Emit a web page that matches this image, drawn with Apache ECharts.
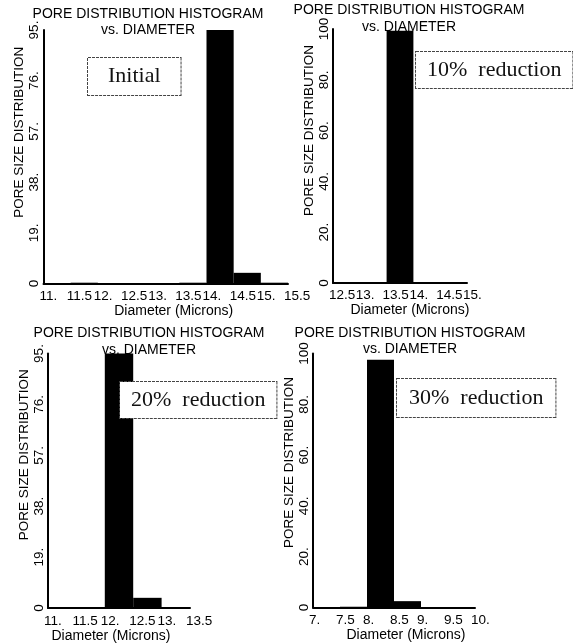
<!DOCTYPE html>
<html>
<head>
<meta charset="utf-8">
<script src="https://cdn.jsdelivr.net/npm/echarts@6/dist/echarts.min.js"></script>
<style>
html,body{margin:0;padding:0;background:#fff;}
#chart{width:573px;height:643px;}
</style>
</head>
<body>
<div id="chart"></div>
<script>
// ---- Data (bin edges in microns, bar heights in %) ----
// Panel 1: Initial
const initialEdges  = [11, 11.5, 12, 12.5, 13, 13.5, 14, 14.5, 15, 15.5];
const initialValues = [0, 0.3, 0, 0, 0, 0.3, 95, 4, 0.3];
const initialYTicks = [0, 95, 19];          // min, max, interval

// Panel 2: 10% reduction
const red10Edges  = [12.5, 13, 13.5, 14, 14.5, 15];
const red10Values = [0, 0, 99.3, 0.3, 0];
const red10YTicks = [0, 100, 20];

// Panel 3: 20% reduction
const red20Edges  = [11, 11.5, 12, 12.5, 13, 13.5];
const red20Values = [0, 0.2, 95, 3.8, 0];
const red20YTicks = [0, 95, 19];

// Panel 4: 30% reduction
const red30Edges  = [7, 7.5, 8, 8.5, 9, 9.5, 10];
const red30Values = [0, 0.3, 97.5, 2.5, 0, 0.2];
const red30YTicks = [0, 100, 20];

const panelLabels = ['Initial', '10%  reduction', '20%  reduction', '30%  reduction'];
const chartTitle1 = 'PORE DISTRIBUTION HISTOGRAM';
const chartTitle2 = 'vs. DIAMETER';
const xName = 'Diameter (Microns)';
const yName = 'PORE SIZE DISTRIBUTION';

// ---- Layout ----
const panels = [
  {edges: initialEdges, values: initialValues, y: initialYTicks,
   grid: {left: 43.5, top: 30, width: 244.5, height: 253.5},
   titleX: 148, titleY: [14, 30], box: [88, 58, 20, 7.5],
   xLabelMargin: 6, xNameGap: 16, xNamePad: [0, 0, 0, 16], yNamePad: 49},
  {edges: red10Edges, values: red10Values, y: red10YTicks,
   grid: {left: 333, top: 29, width: 134, height: 254},
   titleX: 409, titleY: [10, 27], box: [416, 52, 11, 7],
   xLabelMargin: 5, xNameGap: 15, xNamePad: [0, 0, 0, 20], yNamePad: 51},
  {edges: red20Edges, values: red20Values, y: red20YTicks,
   grid: {left: 48, top: 353.5, width: 142, height: 254.5},
   titleX: 149, titleY: [333, 350], box: [120, 382, 11, 7],
   xLabelMargin: 6, xNameGap: 17, xNamePad: [0, 16, 0, 0], yNamePad: 52},
  {edges: red30Edges, values: red30Values, y: red30YTicks,
   grid: {left: 313, top: 353.5, width: 162, height: 254},
   titleX: 410, titleY: [333, 349], box: [397, 379, 12, 8],
   xLabelMargin: 6, xNameGap: 17, xNamePad: [0, 0, 0, 24], yNamePad: 36}
];

const SANS = '"Liberation Sans", Arial, sans-serif';
const SERIF = '"Liberation Serif", "Times New Roman", serif';

function renderBin(params, api) {
  const x0 = api.value(0), x1 = api.value(1), v = api.value(2);
  const pTop = api.coord([x0, v]);
  const pBot = api.coord([x1, 0]);
  return {
    type: 'rect',
    shape: {x: pTop[0], y: pTop[1], width: pBot[0] - pTop[0], height: pBot[1] - pTop[1]},
    style: {fill: '#000'}
  };
}

const grids = [], xAxes = [], yAxes = [], series = [], graphics = [];

panels.forEach((p, i) => {
  grids.push(Object.assign({outerBoundsMode: 'none', containLabel: false}, p.grid));
  xAxes.push({
    gridIndex: i, type: 'value',
    min: p.edges[0], max: p.edges[p.edges.length - 1], interval: 0.5,
    axisLine: {show: true, onZero: false, lineStyle: {color: '#000', width: 2}},
    axisTick: {show: false}, splitLine: {show: false},
    axisLabel: {
      color: '#000', fontFamily: SANS, fontSize: 13.5, margin: p.xLabelMargin,
      align: 'left', padding: [0, 0, 0, -4], hideOverlap: false,
      showMinLabel: true, showMaxLabel: true,
      formatter: v => Number.isInteger(v) ? v + '.' : String(v)
    },
    name: xName, nameLocation: 'middle', nameGap: p.xNameGap,
    nameTextStyle: {color: '#000', fontFamily: SANS, fontSize: 14, verticalAlign: 'top', padding: p.xNamePad}
  });
  yAxes.push({
    gridIndex: i, type: 'value',
    min: p.y[0], max: p.y[1], interval: p.y[2],
    axisLine: {show: true, lineStyle: {color: '#000', width: 2}},
    axisTick: {show: false}, splitLine: {show: false},
    axisLabel: {
      color: '#000', fontFamily: SANS, fontSize: 13.5, margin: 2, rotate: 90,
      hideOverlap: false, showMinLabel: true, showMaxLabel: true,
      formatter: v => (v === 0 || v === 100) ? String(v) : v + '.'
    },
    name: yName, nameLocation: 'middle', nameRotate: 90, nameGap: 14,
    nameTextStyle: {color: '#000', fontFamily: SANS, fontSize: 13.5, padding: [0, 0, 0, p.yNamePad]}
  });
  const data = p.values.map((v, k) => [p.edges[k], p.edges[k + 1], v]);
  series.push({
    type: 'custom', xAxisIndex: i, yAxisIndex: i,
    renderItem: renderBin, encode: {x: [0, 1], y: 2},
    data: data, clip: false, silent: true
  });
  graphics.push({
    type: 'text', x: p.titleX, y: p.titleY[0], z: 50,
    style: {text: chartTitle1, align: 'center', verticalAlign: 'middle', font: '14px ' + SANS, fill: '#000'}
  });
  graphics.push({
    type: 'text', x: p.titleX, y: p.titleY[1], z: 50,
    style: {text: chartTitle2, align: 'center', verticalAlign: 'middle', font: '14px ' + SANS, fill: '#000'}
  });
  graphics.push({
    type: 'text', x: p.box[0], y: p.box[1], z: 100,
    style: {
      text: panelLabels[i], align: 'left', verticalAlign: 'top',
      font: '22px ' + SERIF, fill: '#111',
      backgroundColor: '#fff', borderColor: '#444', borderWidth: 1, borderDash: [3, 1],
      padding: [p.box[3], p.box[2], p.box[3], p.box[2]]
    }
  });
});

const chart = echarts.init(document.getElementById('chart'), null, {renderer: 'canvas'});
chart.setOption({
  animation: false,
  backgroundColor: '#fff',
  grid: grids, xAxis: xAxes, yAxis: yAxes, series: series,
  graphic: {elements: graphics}
});
</script>
</body>
</html>
